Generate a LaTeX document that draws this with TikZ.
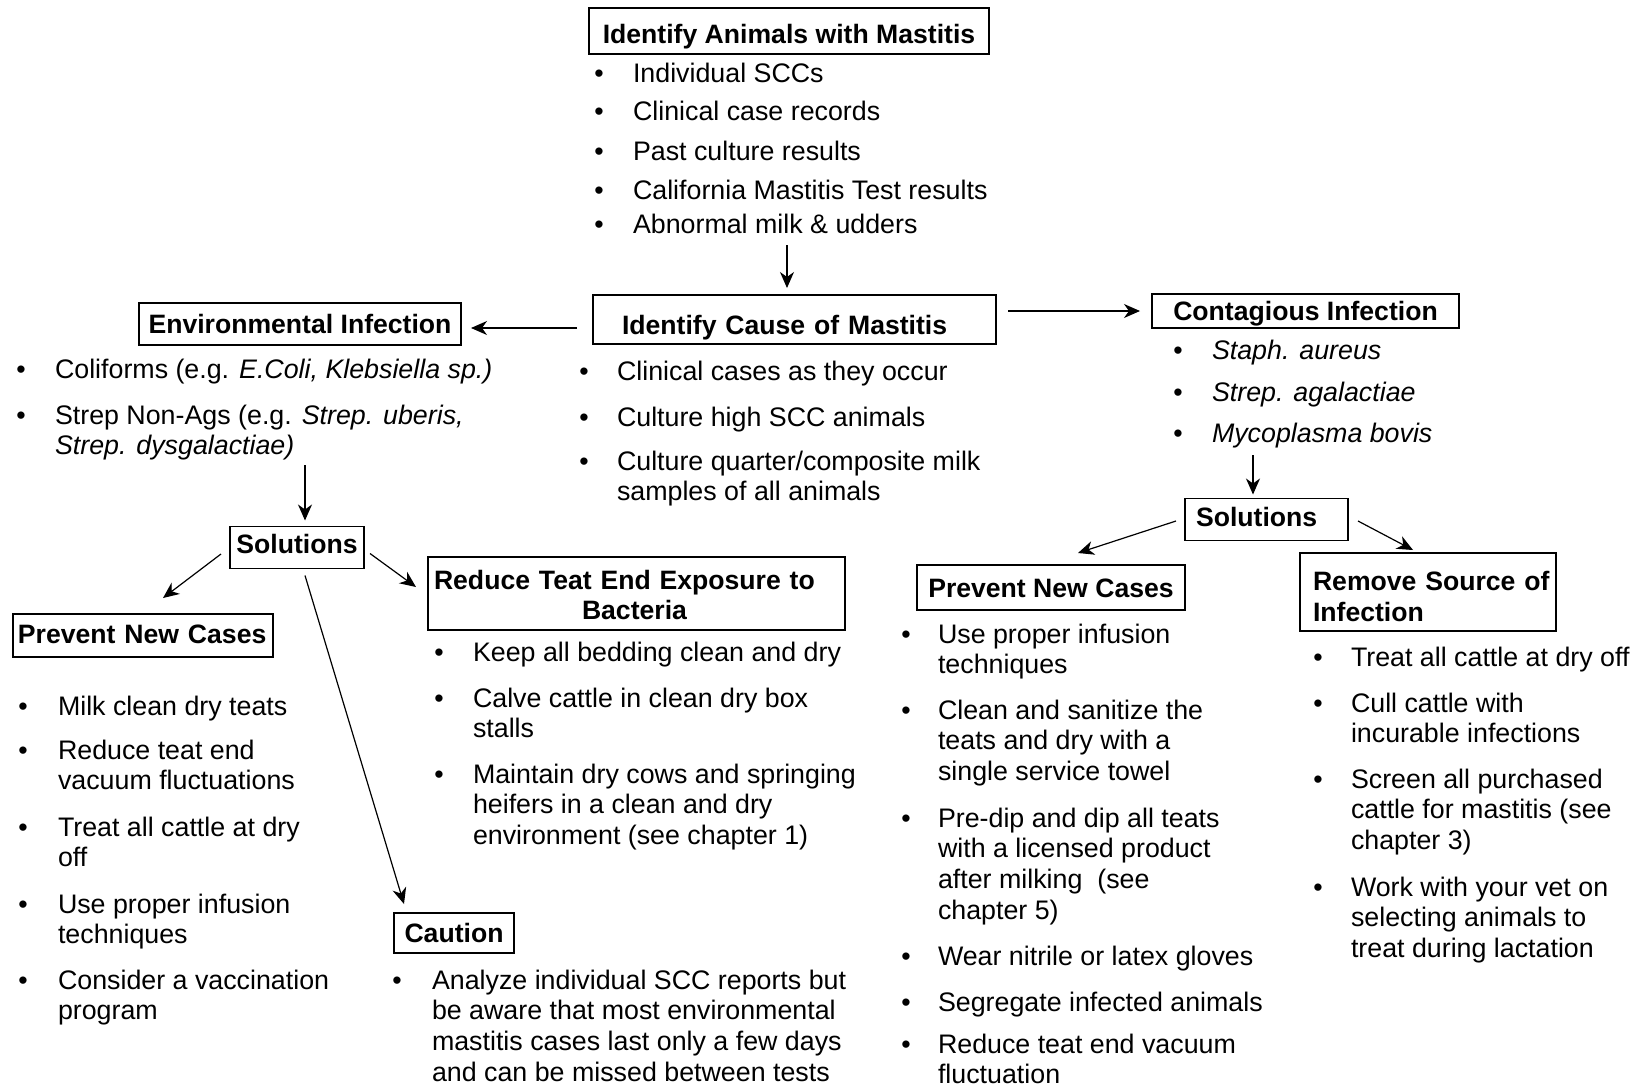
\documentclass[tikz,border=0pt]{standalone}
\usepackage{fontspec}
\setmainfont{Liberation Sans}
\usetikzlibrary{arrows.meta}
\newcommand\ml[1]{\begin{tabular}[t]{@{}l@{}}#1\end{tabular}}
\begin{document}
\begin{tikzpicture}[x=0.5pt,y=-0.5pt,
  every node/.style={inner sep=0pt, outer sep=0pt},
  hbox/.style={draw, line width=0.75pt, font=\fontsize{13.3}{15.45}\selectfont\bfseries, align=center, text depth=3pt},
  hboxl/.style={draw, line width=0.75pt, font=\fontsize{13.3}{15.45}\selectfont\bfseries, align=left},
  txt/.style={anchor=base west, font=\fontsize{13.4}{15.45}\selectfont},
  bul/.style={anchor=base, font=\fontsize{13.4}{15.45}\selectfont},
  arr/.style={-{Stealth[length=8pt,width=7pt,inset=2.5pt]}, line width=0.6pt}]
\fill[white] (0,0) rectangle (1640,1088);
\useasboundingbox (0,0) rectangle (1640,1088);

% ---- boxes ----
\node[hbox, minimum width=200pt, minimum height=23pt, text height=15pt] (top) at (789,31) {Identify Animals with Mastitis};
\node[hbox, inner xsep=14.5pt, text width=172.5pt, minimum height=24.5pt, text height=17.5pt, align=left] (cause) at (794.5,319.5) {\mbox{Identify Cause of Mastitis}};
\node[hbox, minimum width=161pt, minimum height=21pt, text height=12.5pt] (env) at (300,324) {Environmental Infection};
\node[hbox, minimum width=153.5pt, minimum height=17pt, text height=12.5pt] (cont) at (1305.5,311) {Contagious Infection};
\node[hbox, inner xsep=5.5pt, text width=70.5pt, minimum height=21pt, text height=10pt, align=left] (rsol) at (1266.5,519.5) {\mbox{Solutions}};
\node[hbox, minimum width=134pt, minimum height=22.5pt, text height=12.5pt] (rprev) at (1051,587.5) {Prevent New Cases};
\node[hboxl, inner xsep=6.5pt, text width=115pt, minimum height=39pt] (remove) at (1428,592) {\ml{\rule{0pt}{18.6pt}Remove Source of\\Infection}};
\node[hbox, minimum width=67pt, minimum height=21pt, text height=8.5pt] (lsol) at (297,547.5) {Solutions};
\node[hbox, inner xsep=2.5pt, text width=125pt, minimum height=21.5pt, text height=11pt, align=left] (lprev) at (143,635.5) {\mbox{Prevent New Cases}};
\node[hboxl, inner xsep=3pt, text width=202.5pt, minimum height=36.5pt] (reduce) at (636.5,593.5) {\ml{\rule{0pt}{15.6pt}Reduce Teat End Exposure to\\\hspace*{74pt}Bacteria}};
\node[hbox, minimum width=60pt, minimum height=20pt, text height=12.5pt] (caution) at (454,933) {Caution};

% ---- top list ----
\node[bul] (tb1) at (599,82) {\textbullet}; \node[txt] (tt1) at (633,82) {Individual SCCs};
\node[bul] (tb2) at (599,120) {\textbullet}; \node[txt] (tt2) at (633,120) {Clinical case records};
\node[bul] (tb3) at (599,160) {\textbullet}; \node[txt] (tt3) at (633,160) {Past culture results};
\node[bul] (tb4) at (599,199) {\textbullet}; \node[txt] (tt4) at (633,199) {California Mastitis Test results};
\node[bul] (tb5) at (599,233) {\textbullet}; \node[txt] (tt5) at (633,233) {Abnormal milk \& udders};

% ---- environmental list ----
\node[bul] (eb1) at (21,378) {\textbullet}; \node[txt] (et1) at (55,378) {Coliforms (e.g. \textit{E.Coli, Klebsiella sp.)}};
\node[bul] (eb2) at (21,424) {\textbullet}; \node[txt] (et2) at (55,424) {\ml{Strep Non-Ags (e.g. \textit{Strep. uberis,}\\\textit{Strep. dysgalactiae)}}};

% ---- cause list ----
\node[bul] (cb1) at (584,380) {\textbullet}; \node[txt] (ct1) at (617,380) {Clinical cases as they occur};
\node[bul] (cb2) at (584,426) {\textbullet}; \node[txt] (ct2) at (617,426) {Culture high SCC animals};
\node[bul] (cb3) at (584,470) {\textbullet}; \node[txt] (ct3) at (617,470) {\ml{Culture quarter/composite milk\\samples of all animals}};

% ---- contagious list ----
\node[bul] (gb1) at (1178,359) {\textbullet}; \node[txt] (gt1) at (1212,359) {\textit{Staph. aureus}};
\node[bul] (gb2) at (1178,401) {\textbullet}; \node[txt] (gt2) at (1212,401) {\textit{Strep. agalactiae}};
\node[bul] (gb3) at (1178,442) {\textbullet}; \node[txt] (gt3) at (1212,442) {\textit{Mycoplasma bovis}};

% ---- right prevent list ----
\node[bul] (pb1) at (906,643) {\textbullet}; \node[txt] (pt1) at (938,643) {\ml{Use proper infusion\\techniques}};
\node[bul] (pb2) at (906,719) {\textbullet}; \node[txt] (pt2) at (938,719) {\ml{Clean and sanitize the\\teats and dry with a\\single service towel}};
\node[bul] (pb3) at (906,827) {\textbullet}; \node[txt] (pt3) at (938,827) {\ml{Pre-dip and dip all teats\\with a licensed product\\after milking~ (see\\chapter 5)}};
\node[bul] (pb4) at (906,965) {\textbullet}; \node[txt] (pt4) at (938,965) {Wear nitrile or latex gloves};
\node[bul] (pb5) at (906,1011) {\textbullet}; \node[txt] (pt5) at (938,1011) {Segregate infected animals};
\node[bul] (pb6) at (906,1053) {\textbullet}; \node[txt] (pt6) at (938,1053) {\ml{Reduce teat end vacuum\\fluctuation}};

% ---- remove list ----
\node[bul] (rb1) at (1318,666) {\textbullet}; \node[txt] (rt1) at (1351,666) {Treat all cattle at dry off};
\node[bul] (rb2) at (1318,712) {\textbullet}; \node[txt] (rt2) at (1351,712) {\ml{Cull cattle with\\incurable infections}};
\node[bul] (rb3) at (1318,788) {\textbullet}; \node[txt] (rt3) at (1351,788) {\ml{Screen all purchased\\cattle for mastitis (see\\chapter 3)}};
\node[bul] (rb4) at (1318,896) {\textbullet}; \node[txt] (rt4) at (1351,896) {\ml{Work with your vet on\\selecting animals to\\treat during lactation}};

% ---- left prevent list ----
\node[bul] (lb1) at (23,715) {\textbullet}; \node[txt] (lt1) at (58,715) {Milk clean dry teats};
\node[bul] (lb2) at (23,759) {\textbullet}; \node[txt] (lt2) at (58,759) {\ml{Reduce teat end\\vacuum fluctuations}};
\node[bul] (lb3) at (23,836) {\textbullet}; \node[txt] (lt3) at (58,836) {\ml{Treat all cattle at dry\\off}};
\node[bul] (lb4) at (23,913) {\textbullet}; \node[txt] (lt4) at (58,913) {\ml{Use proper infusion\\techniques}};
\node[bul] (lb5) at (23,989) {\textbullet}; \node[txt] (lt5) at (58,989) {\ml{Consider a vaccination\\program}};

% ---- reduce list ----
\node[bul] (xb1) at (439,661) {\textbullet}; \node[txt] (xt1) at (473,661) {Keep all bedding clean and dry};
\node[bul] (xb2) at (439,707) {\textbullet}; \node[txt] (xt2) at (473,707) {\ml{Calve cattle in clean dry box\\stalls}};
\node[bul] (xb3) at (439,783) {\textbullet}; \node[txt] (xt3) at (473,783) {\ml{Maintain dry cows and springing\\heifers in a clean and dry\\environment (see chapter 1)}};

% ---- caution list ----
\node[bul] (kb1) at (397,989) {\textbullet}; \node[txt] (kt1) at (432,989) {\ml{Analyze individual SCC reports but\\be aware that most environmental\\mastitis cases last only a few days\\and can be missed between tests}};

% ---- connectors ----
\coordinate (a1) at (787,245);
\draw[arr, shorten >=3.5pt] (a1) -- (a1 |- cause.north);
\coordinate (a2) at (577,328);
\draw[arr, shorten >=5pt] (a2) -- (a2 -| env.east);
\coordinate (a3) at (1008,311);
\draw[arr, shorten >=6pt] (a3) -- (a3 -| cont.west);
\coordinate (a4) at (1253,455);
\draw[arr, shorten >=2pt] (a4) -- (a4 |- rsol.north);
\draw[arr] ([shift={(-9,1.5)}]rsol.west) -- ([shift={(27,-12)}]rprev.north);
\draw[arr] ([shift={(10,1.5)}]rsol.east) -- ([shift={(-15,-3)}]remove.north);
\coordinate (a5) at (305,465);
\draw[arr, shorten >=3pt] (a5) -- (a5 |- lsol.north);
\draw[arr] ([shift={(-9,6.5)}]lsol.west) -- ([shift={(20,-16)}]lprev.north);
\draw[arr] ([shift={(6,6)}]lsol.east) -- ([shift={(-12,-6.5)}]reduce.west);
\draw[arr] ([shift={(8,7)}]lsol.south) -- ([shift={(-50,-9)}]caution.north);
\end{tikzpicture}
\end{document}
